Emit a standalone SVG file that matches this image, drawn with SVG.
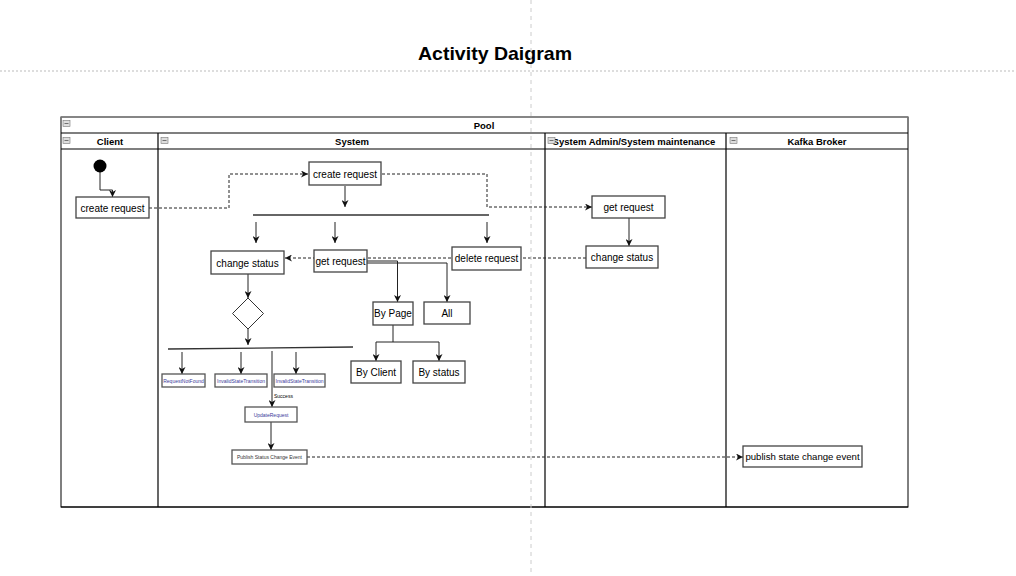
<svg xmlns="http://www.w3.org/2000/svg" width="1016" height="576" viewBox="0 0 1016 576">
<style>
text{font-family:"Liberation Sans",Arial,sans-serif;fill:#000}
.t{font-size:10px;text-anchor:middle;dominant-baseline:central}
.s{font-size:5px;text-anchor:middle;dominant-baseline:central;fill:#3a3a9a}
.h{font-size:9.5px;font-weight:bold;text-anchor:middle;dominant-baseline:central}
.box{fill:#fff;stroke:#444;stroke-width:1.3}
.sbox{fill:#fff;stroke:#555;stroke-width:1.3}
.ln{fill:none;stroke:#222;stroke-width:1}
.dash{fill:none;stroke:#222;stroke-width:1;stroke-dasharray:3,2}
.lane{fill:none;stroke:#000;stroke-width:1.2}
.ic{fill:#ddd;stroke:#777;stroke-width:0.6}
</style>
<defs>
<marker id="a" viewBox="0 0 10 10" refX="10" refY="5" markerWidth="7" markerHeight="7" orient="auto" markerUnits="userSpaceOnUse">
<path d="M0,0 L10,5 L0,10 L3,5 z" fill="#111"/>
</marker>
</defs>
<rect width="1016" height="576" fill="#fff"/>
<line x1="0" y1="71" x2="1016" y2="71" stroke="#bbb" stroke-width="1" stroke-dasharray="2,2"/>
<text x="495" y="53" font-size="19" font-weight="bold" text-anchor="middle" dominant-baseline="central" style="font-size:19px" textLength="154" lengthAdjust="spacingAndGlyphs">Activity Daigram</text>

<g id="pool">
<rect x="61" y="117" width="847" height="390" fill="#fff" stroke="#000" stroke-width="1"/>
<line x1="61" y1="117" x2="908" y2="117" stroke="#888" stroke-width="1.5"/>
<line x1="61" y1="133" x2="908" y2="133" class="lane"/>
<line x1="61" y1="149" x2="908" y2="149" class="lane"/>
<line x1="158" y1="133" x2="158" y2="507" class="lane"/>
<line x1="545" y1="133" x2="545" y2="507" class="lane"/>
<line x1="726" y1="133" x2="726" y2="507" class="lane"/>
<line x1="61" y1="507" x2="908" y2="507" class="lane"/>
<text x="484" y="125" class="h">Pool</text>
<text x="110" y="141.5" class="h">Client</text>
<text x="352" y="141.5" class="h">System</text>
<text x="634" y="141.5" class="h">System Admin/System maintenance</text>
<text x="817" y="141.5" class="h">Kafka Broker</text>
<rect x="63" y="120.5" width="7" height="6" class="ic"/><line x1="64.5" y1="123.5" x2="68.5" y2="123.5" stroke="#555" stroke-width="0.8"/>
<rect x="63" y="137.5" width="7" height="6" class="ic"/><line x1="64.5" y1="140.5" x2="68.5" y2="140.5" stroke="#555" stroke-width="0.8"/>
<rect x="161" y="137.5" width="7" height="6" class="ic"/><line x1="162.5" y1="140.5" x2="166.5" y2="140.5" stroke="#555" stroke-width="0.8"/>
<rect x="548" y="137.5" width="7" height="6" class="ic"/><line x1="549.5" y1="140.5" x2="553.5" y2="140.5" stroke="#555" stroke-width="0.8"/>
<rect x="730" y="137.5" width="7" height="6" class="ic"/><line x1="731.5" y1="140.5" x2="735.5" y2="140.5" stroke="#555" stroke-width="0.8"/>
</g>

<g id="connectors">
<path d="M100,172 V190 H112.5 V197" class="ln" marker-end="url(#a)"/>
<path d="M149,208 H229 V174 H308" class="dash" marker-end="url(#a)"/>
<path d="M382,174 H487 V207 H592" class="dash" marker-end="url(#a)"/>
<path d="M345,186 V207" class="ln" marker-end="url(#a)"/>
<line x1="253" y1="215" x2="489" y2="215" stroke="#333" stroke-width="1.3"/>
<path d="M256,222 V243" class="ln" marker-end="url(#a)"/>
<path d="M335,222 V243" class="ln" marker-end="url(#a)"/>
<path d="M487,222 V243" class="ln" marker-end="url(#a)"/>
<path d="M586,258 H285" class="dash" marker-end="url(#a)"/>
<path d="M629,218 V246" class="ln" marker-end="url(#a)"/>
<path d="M367,261 H397.5 V302" class="ln" marker-end="url(#a)"/>
<path d="M367,263 H447 V302" class="ln" marker-end="url(#a)"/>
<path d="M393,325 V342 H376 V361" class="ln" marker-end="url(#a)"/>
<path d="M393,342 H439 V361" class="ln" marker-end="url(#a)"/>
<path d="M248,274 V298" class="ln" marker-end="url(#a)"/>
<path d="M248,329 V345" class="ln" marker-end="url(#a)"/>
<line x1="168" y1="349" x2="353" y2="347" stroke="#333" stroke-width="1.3"/>
<path d="M182,352 V374" class="ln" marker-end="url(#a)"/>
<path d="M241,352 V374" class="ln" marker-end="url(#a)"/>
<path d="M296,352 V374" class="ln" marker-end="url(#a)"/>
<path d="M272,351 V407" class="ln" marker-end="url(#a)"/>
<text x="274" y="396" font-size="5" dominant-baseline="central" style="font-size:5px" fill="#333">Success</text>
<path d="M271,422 V450" class="ln" marker-end="url(#a)"/>
<path d="M307,457 H743" class="dash" marker-end="url(#a)"/>
</g>

<g id="start"><circle cx="100" cy="166" r="6.5" fill="#000"/></g>
<g id="client-create"><rect x="76" y="197" width="73" height="21" class="box"/><text x="112.5" y="208" class="t">create request</text></g>
<g id="sys-create"><rect x="309" y="162" width="72" height="23" class="box"/><text x="345" y="174" class="t">create request</text></g>
<g id="change-status"><rect x="211" y="251" width="73" height="23" class="box"/><text x="247.5" y="263" class="t">change status</text></g>
<g id="get-request"><rect x="314" y="250" width="53" height="22" class="box"/><text x="340.5" y="261.5" class="t">get request</text></g>
<g id="delete-request"><rect x="452" y="247" width="69" height="23" class="box"/><text x="486.5" y="258.5" class="t">delete request</text></g>
<g id="by-page"><rect x="373" y="302" width="40" height="23" class="box"/><text x="393" y="313.5" class="t">By Page</text></g>
<g id="all"><rect x="424" y="302" width="46" height="22" class="box"/><text x="447" y="313.5" class="t">All</text></g>
<g id="by-client"><rect x="351" y="361" width="50" height="22" class="box"/><text x="376" y="372.5" class="t">By Client</text></g>
<g id="by-status"><rect x="413" y="361" width="52" height="22" class="box"/><text x="439" y="372.5" class="t">By status</text></g>
<g id="decision"><path d="M248,298 L263.5,313.5 L248,329 L232.5,313.5 z" fill="#fff" stroke="#333" stroke-width="1"/></g>
<g id="not-found"><rect x="162" y="374" width="43" height="13" class="sbox"/><text x="183.5" y="381" class="s">RequestNotFound</text></g>
<g id="invalid1"><rect x="215" y="374" width="52" height="13" class="sbox"/><text x="241" y="381" class="s">InvalidStateTransition</text></g>
<g id="invalid2"><rect x="274" y="374" width="51" height="13" class="sbox"/><text x="299.5" y="381" class="s">InvalidStateTransition</text></g>
<g id="update"><rect x="245" y="407" width="52" height="15" class="sbox"/><text x="271" y="414.5" class="s">UpdateRequest</text></g>
<g id="publish"><rect x="232" y="450" width="75" height="14" class="sbox"/><text x="269.5" y="457" class="s" style="fill:#333">Publish Status Change Event</text></g>
<g id="admin-get"><rect x="592" y="196" width="73" height="22" class="box"/><text x="628.5" y="207.5" class="t">get request</text></g>
<g id="admin-change"><rect x="586" y="246" width="72" height="22" class="box"/><text x="622" y="257" class="t">change status</text></g>
<g id="kafka-publish"><rect x="743" y="446" width="119" height="21" class="box"/><text x="802.5" y="456.5" class="t" style="font-size:9.6px">publish state change event</text></g>

<line x1="531" y1="0" x2="531" y2="576" stroke="#ccc" stroke-width="1" stroke-dasharray="4,4"/>
</svg>
